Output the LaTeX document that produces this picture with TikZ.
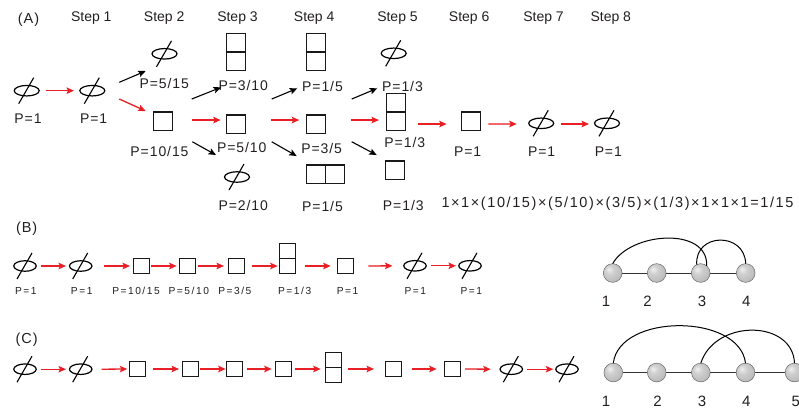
\documentclass[tikz,border=0pt]{standalone}
\usepackage{fontspec}
\setmainfont{Liberation Sans}
\newfontfamily\labfont[LetterSpace=6.5]{Liberation Sans}
\newfontfamily\smlfont[LetterSpace=15]{Liberation Sans}
\newfontfamily\eqfont[LetterSpace=11]{Liberation Sans}
\usepackage{tikz}
\usetikzlibrary{shapes.geometric, arrows.meta, positioning}
\definecolor{arrowred}{RGB}{232,32,38}
\definecolor{ink}{RGB}{35,31,32}
\pgfdeclareradialshading{sphere}{\pgfpoint{-10bp}{10bp}}{%
	color(0bp)=(gray!12); color(12bp)=(gray!38); color(32bp)=(gray!55);
	color(50bp)=(gray!75); color(70bp)=(gray!90)}
\tikzstyle{nul} = [
	ellipse,
	draw=black,
	line width=1.2pt,
	minimum width=25pt,
	minimum height=10.5pt,
	inner sep=0pt,
	outer sep=0pt
]
\tikzstyle{nuls} = [nul, minimum width=22.5pt, minimum height=10.5pt]
\tikzstyle{sq} = [
	rectangle,
	draw=black!90,
	line width=1.1pt,
	minimum width=19pt,
	minimum height=18.5pt,
	inner sep=0pt,
	outer sep=0pt
]
\tikzstyle{sqs} = [sq, minimum width=16pt, minimum height=15pt]
\tikzstyle{slash} = [line width=1.1pt]
\tikzstyle{steplab} = [font=\fontsize{14}{16}\selectfont, anchor=base, inner sep=0pt]
\tikzstyle{title} = [font=\labfont\fontsize{14.5}{16}\selectfont, anchor=base, inner sep=0pt]
\tikzstyle{prob} = [font=\labfont\fontsize{14}{16}\selectfont, anchor=base, inner sep=0pt]
\tikzstyle{probs} = [font=\smlfont\fontsize{10.2}{12}\selectfont, anchor=base, inner sep=0pt]
\tikzstyle{eqn} = [font=\eqfont\fontsize{14.5}{16}\selectfont, anchor=base, inner sep=0pt]
\tikzstyle{num} = [font=\fontsize{15}{17}\selectfont, anchor=base, inner sep=0pt]
\tikzstyle{redarrow} = [line width=1.3pt, draw=arrowred, fill=arrowred, -{Stealth[length=7.5pt, width=6.5pt, inset=1.5pt]}]
\tikzstyle{blackarrow} = [line width=1.1pt, -{Stealth[length=7.5pt, width=6.5pt, inset=1.5pt]}]
\tikzstyle{ball} = [circle, shading=sphere, draw=black!60, line width=0.5pt, minimum size=18.7pt, inner sep=0pt, outer sep=0pt]
\tikzstyle{link} = [line width=0.9pt, draw=black!80]
\tikzstyle{arc} = [line width=1pt]

\begin{document}
\begin{tikzpicture}[x=1pt, y=-1pt, text=ink]
    \useasboundingbox (0,0) rectangle (799,412);
    \clip (0,0) rectangle (799,412);

    % (A) the eight steps
    \node[title] (tA) at (28.5,23.5) {(A)};
    \foreach \x/\n in {91.3/1, 164.2/2, 237.5/3, 314.2/4, 397.5/5, 469.2/6, 543.5/7, 610.8/8}
      \node[steplab] (step\n) at (\x,21.7) {Step \n};

    \node[nul] (a0) at (26.7,90.7) {};
    \node[nul] (a1) at (92.3,90.7) {};
    \node[nul] (b1) at (164.5,53.8) {};
    \node[sq] (b2) at (163,121.25) {};
    \node[sq] (c1) at (236,61.25) {};
    \node[sq, above=0pt of c1] (c1t) {};
    \node[sq] (c2) at (236,124.25) {};
    \node[nul] (c3) at (237,177) {};
    \node[sq] (d1) at (316,61.25) {};
    \node[sq, above=0pt of d1] (d1t) {};
    \node[sq] (d2) at (316,124.25) {};
    \node[sq] (d3) at (316,174.25) {};
    \node[sq, right=0pt of d3] (d3r) {};
    \node[nul] (e1) at (393.7,53.3) {};
    \node[sq] (e2) at (396,121.25) {};
    \node[sq, above=0pt of e2] (e2t) {};
    \node[sq] (e3) at (395,170.25) {};
    \node[sq] (f1) at (471,121.25) {};
    \node[nul] (g1) at (541.2,123.3) {};
    \node[nul] (h1) at (607,123.3) {};

    \node[prob] (la0) at (28,123.3) {P=1};
    \node[prob] (la1) at (93.7,123.3) {P=1};
    \node[prob] (lb1) at (164.3,88.7) {P=5/15};
    \node[prob] (lb2) at (159.5,156.7) {P=10/15};
    \node[prob] (lc1) at (243.3,90.5) {P=3/10};
    \node[prob] (lc2) at (241.7,152.5) {P=5/10};
    \node[prob] (lc3) at (243.3,210) {P=2/10};
    \node[prob] (ld1) at (322.5,91) {P=1/5};
    \node[prob] (ld2) at (321.7,153) {P=3/5};
    \node[prob] (ld3) at (322.5,211) {P=1/5};
    \node[prob] (le1) at (402.5,91) {P=1/3};
    \node[prob] (le2) at (404.8,147) {P=1/3};
    \node[prob] (le3) at (403.3,210) {P=1/3};
    \node[prob] (lf1) at (467.7,156.5) {P=1};
    \node[prob] (lg1) at (541.7,156.5) {P=1};
    \node[prob] (lh1) at (608.3,156.5) {P=1};
    \node[eqn] (prod) at (617.5,207) {1×1×(10/15)×(5/10)×(3/5)×(1/3)×1×1×1=1/15};

    \draw[redarrow] ([shift={(19,0)}]a0.center) -- ([shift={(-18.3,0)}]a1.center);
    \draw[blackarrow] ([shift={(27,-8.4)}]a1.center) -- ([shift={(-18.8,17.2)}]b1.center);
    \draw[redarrow] ([shift={(27,8.3)}]a1.center) -- ([shift={(-17.3,-10.2)}]b2.center);
    \draw[blackarrow] ([shift={(28.7,-22.2)}]b2.center) -- ([shift={(-15,26.1)}]c1.center);
    \draw[redarrow] ([shift={(28.7,-1.2)}]b2.center) -- ([shift={(-15.3,-4.2)}]c2.center);
    \draw[blackarrow] ([shift={(29.3,20.5)}]b2.center) -- ([shift={(-21,-22)}]c3.center);
    \draw[blackarrow] ([shift={(35.7,-25.2)}]c2.center) -- ([shift={(-18.7,27.1)}]d1.center);
    \draw[redarrow] ([shift={(35,-4.2)}]c2.center) -- ([shift={(-16.7,-4.2)}]d2.center);
    \draw[blackarrow] ([shift={(35.7,17.5)}]c2.center) -- ([shift={(-19.3,-18.2)}]d3.center);
    \draw[blackarrow] ([shift={(35.7,-25.2)}]d2.center) -- ([shift={(-16.4,35)}]e1.center);
    \draw[redarrow] ([shift={(34.7,-4.2)}]d2.center) -- ([shift={(-17,-1.2)}]e2.center);
    \draw[blackarrow] ([shift={(35.7,17.5)}]d2.center) -- ([shift={(-18.3,-15.2)}]e3.center);
    \draw[redarrow] ([shift={(22.3,2.8)}]e2.center) -- ([shift={(-24.3,2.8)}]f1.center);
    \draw[redarrow] ([shift={(17.3,2.8)}]f1.center) -- ([shift={(-24.5,0.7)}]g1.center);
    \draw[redarrow] ([shift={(19.5,0.7)}]g1.center) -- ([shift={(-18,0.7)}]h1.center);

    % (B) one path
    \node[title] (tB) at (26.7,232) {(B)};
    \node[nuls] (p0) at (25,266) {};
    \node[nuls] (p1) at (80.7,266) {};
    \node[sqs] (p2) at (141.5,266) {};
    \node[sqs] (p3) at (187.5,266) {};
    \node[sqs] (p4) at (236.5,266) {};
    \node[sqs] (p5) at (287.5,266) {};
    \node[sqs, above=0pt of p5] (p5t) {};
    \node[sqs] (p6) at (345.5,266) {};
    \node[nuls] (p7) at (415,265.8) {};
    \node[nuls] (p8) at (470,265.8) {};

    \node[probs] (lp0) at (25.8,294) {P=1};
    \node[probs] (lp1) at (81.7,294) {P=1};
    \node[probs] (lp2) at (136,294) {P=10/15};
    \node[probs] (lp3) at (188.8,294) {P=5/10};
    \node[probs] (lp4) at (234.8,294) {P=3/5};
    \node[probs] (lp5) at (294.7,294) {P=1/3};
    \node[probs] (lp6) at (347.5,294) {P=1};
    \node[probs] (lp7) at (415.3,294) {P=1};
    \node[probs] (lp8) at (471.3,294) {P=1};

    \draw[redarrow] ([xshift=15.7]p0.center) -- ([xshift=-14.7]p1.center);
    \draw[redarrow] ([xshift=23.3]p1.center) -- ([xshift=-11.5]p2.center);
    \draw[redarrow] ([xshift=9.5]p2.center) -- ([xshift=-10.8]p3.center);
    \draw[redarrow] ([xshift=10.8]p3.center) -- ([xshift=-12.5]p4.center);
    \draw[redarrow] ([xshift=15.2]p4.center) -- ([xshift=-9.8]p4.center -| p5.center);
    \draw[redarrow] ([xshift=17.5]p4.center -| p5.center) -- ([xshift=-14.8]p6.center);
    \draw[redarrow] ([xshift=22.8]p6.center) -- ([xshift=-22.5]p7.center);
    \draw[redarrow] ([xshift=15.7]p7.center) -- ([xshift=-14]p8.center);

    \node[ball] (n1) at (612.7,273) {};
    \node[ball] (n2) at (656.7,273) {};
    \node[ball] (n3) at (700.7,273) {};
    \node[ball] (n4) at (745.7,273) {};
    \draw[link] (n1) -- (n2) (n2) -- (n3) (n3) -- (n4);
    \draw[arc] (n1.north) .. controls +(17.3,-31.3) and +(1.3,-39.8) .. (n3.50);
    \draw[arc] (n3.115) .. controls +(-2,-32) and +(-1,-32) .. (n4.north);
    \node[num] (k1) at (606,306) {1};
    \node[num] (k2) at (647.5,306) {2};
    \node[num] (k3) at (702,306) {3};
    \node[num] (k4) at (746.3,306) {4};

    % (C) another path
    \node[title] (tC) at (26.7,343.7) {(C)};
    \node[nuls] (q0) at (25,369.2) {};
    \node[nuls] (q1) at (80.7,369.2) {};
    \node[sqs] (q2) at (137.5,369) {};
    \node[sqs] (q3) at (190.5,369) {};
    \node[sqs] (q4) at (234.5,369) {};
    \node[sqs] (q5) at (283.5,369) {};
    \node[sqs] (q6) at (333.5,375) {};
    \node[sqs, above=0pt of q6] (q6t) {};
    \node[sqs] (q7) at (393.5,369) {};
    \node[sqs] (q8) at (452.5,369) {};
    \node[nuls] (q9) at (511.3,369.2) {};
    \node[nuls] (q10) at (567,369.2) {};

    \draw[redarrow] ([xshift=15.7]q0.center) -- ([xshift=-14.7]q1.center);
    \draw[redarrow] ([xshift=21]q1.center) -- ([xshift=-10.2]q2.center);
    \draw[redarrow] ([xshift=15.8]q2.center) -- ([xshift=-11.5]q3.center);
    \draw[redarrow] ([xshift=9.5]q3.center) -- ([xshift=-8.8]q4.center);
    \draw[redarrow] ([xshift=12.2]q4.center) -- ([xshift=-11.8]q5.center);
    \draw[redarrow] ([xshift=11.5]q5.center) -- ([xshift=-12.8]q5.center -| q6.center);
    \draw[redarrow] ([xshift=14.8]q5.center -| q6.center) -- ([xshift=-19.5]q7.center);
    \draw[redarrow] ([xshift=18.2]q7.center) -- ([xshift=-15.8]q8.center);
    \draw[redarrow] ([xshift=12.5]q8.center) -- ([xshift=-20.6]q9.center);
    \draw[redarrow] ([xshift=16]q9.center) -- ([xshift=-13.7]q10.center);

    \node[ball] (m1) at (613.3,372.5) {};
    \node[ball] (m2) at (656.7,372.5) {};
    \node[ball] (m3) at (700.8,372.5) {};
    \node[ball] (m4) at (745.5,372.5) {};
    \node[ball] (m5) at (794.5,372.5) {};
    \draw[link] (m1) -- (m2) (m2) -- (m3) (m3) -- (m4) (m4) -- (m5);
    \draw[arc] (m1.north) .. controls +(6,-50) and +(-6,-50) .. (m4.north);
    \draw[arc] (m3.north) .. controls +(14,-44) and +(-2,-44) .. (m5.north);
    \node[num] (j1) at (606,406.5) {1};
    \node[num] (j2) at (657.5,406.5) {2};
    \node[num] (j3) at (702,406.5) {3};
    \node[num] (j4) at (746.3,406.5) {4};
    \node[num] (j5) at (795.9,406.5) {5};

    % slashes of the empty sets
    \foreach \n in {a0,a1,b1,c3,e1,g1,h1,p0,p1,p7,p8,q0,q1,q9,q10}
      \draw[slash] ([shift={(-8,13)}]\n.center) -- ([shift={(7,-13)}]\n.center);
\end{tikzpicture}
\end{document}
